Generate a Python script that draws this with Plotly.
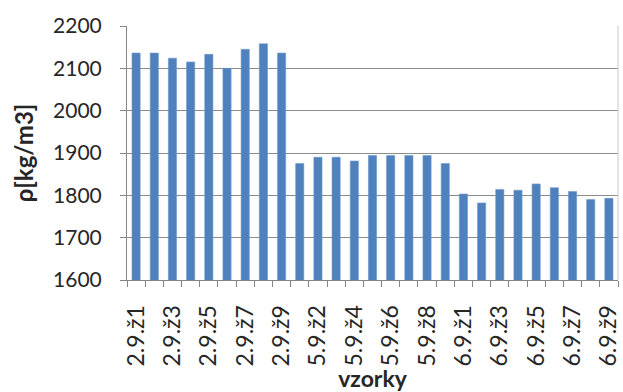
import plotly.graph_objects as go

# Sample names: three series of nine specimens each
samples = (
    [f"2.9.ž{i}" for i in range(1, 10)]
    + [f"5.9.ž{i}" for i in range(1, 10)]
    + [f"6.9.ž{i}" for i in range(1, 10)]
)

# Bulk density per sample [kg/m3]
density = [
    2136, 2136, 2124, 2115, 2133, 2100, 2145, 2158, 2136,
    1875, 1890, 1890, 1881, 1894, 1894, 1894, 1894, 1875,
    1803, 1782, 1814, 1812, 1827, 1818, 1809, 1790, 1793,
]

y_ticks = [1600, 1700, 1800, 1900, 2000, 2100, 2200]

# Label every second sample on the x axis
x_ticktext = [s if i % 2 == 0 else "" for i, s in enumerate(samples)]

font_family = "Lato, 'Open Sans', sans-serif"

fig = go.Figure(
    go.Bar(
        x=samples,
        y=density,
        marker=dict(color="#4F81BD", line=dict(color="#6F97CB", width=0.6)),
    )
)

fig.update_layout(
    width=623,
    height=392,
    margin=dict(l=127, r=5, t=26, b=112),
    paper_bgcolor="white",
    plot_bgcolor="white",
    bargap=0.55,
    showlegend=False,
    font=dict(family=font_family, color="#262626"),
)

fig.update_xaxes(
    type="category",
    tickvals=samples,
    ticktext=x_ticktext,
    tickangle=-90,
    tickson="boundaries",
    ticks="outside",
    ticklen=6,
    tickcolor="#868686",
    showline=True,
    linecolor="#868686",
    linewidth=1,
    mirror=False,
    showgrid=False,
    automargin=False,
    ticklabelstandoff=15,
    tickfont=dict(size=23, family=font_family, color="#262626"),
    title=dict(text="<b>vzorky</b>", font=dict(size=23, family=font_family), standoff=6),
)

fig.update_yaxes(
    range=[1600, 2200],
    tickvals=y_ticks,
    ticks="outside",
    ticklen=6,
    tickcolor="#868686",
    showline=True,
    linecolor="#868686",
    linewidth=1,
    showgrid=True,
    gridcolor="#8c8c8c",
    gridwidth=1,
    zeroline=False,
    automargin=False,
    ticklabelstandoff=14,
    tickfont=dict(size=21, family=font_family, color="#262626"),
    title=dict(text="<b>ρ[kg/m3]</b>", font=dict(size=24, family=font_family), standoff=12),
)

# Light frame on the right edge of the plot area
fig.add_shape(
    type="line", xref="paper", yref="paper",
    x0=1, x1=1, y0=0, y1=1,
    line=dict(color="#c8c8c8", width=1),
)

fig.write_html("out.html")
